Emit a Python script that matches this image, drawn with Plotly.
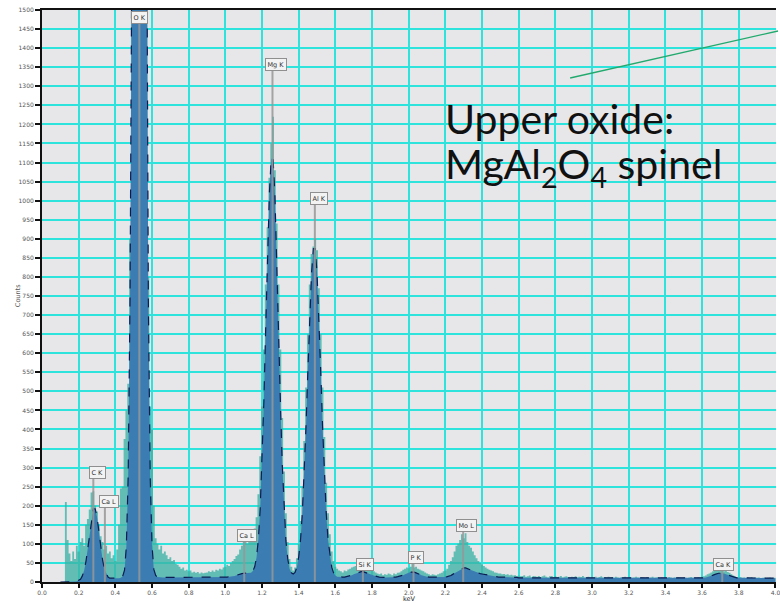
import numpy as np
import plotly.graph_objects as go

# ---------------------------------------------------------------------------
# EDS spectrum of the upper oxide layer (10 eV channels, 0.10 - 4.00 keV)
# ---------------------------------------------------------------------------
energy_start_kev = 0.10
channel_width_kev = 0.01

# Measured counts per channel
measured_counts = [
    0, 0, 0, 210, 110, 75, 55, 80, 60, 95,                      # 0.10
    80, 105, 115, 95, 150, 165, 190, 235, 238, 200,             # 0.20
    185, 150, 120, 105, 85, 95, 75, 80, 62, 70,                 # 0.30
    55, 85, 150, 245, 250, 375, 450, 520, 900, 1900,            # 0.40
    3200, 4800, 6300, 6900, 6300, 4900, 3200, 1700, 800, 460,   # 0.50
    400, 200, 115, 100, 85, 95, 75, 80, 70, 60,                 # 0.60
    65, 55, 58, 48, 45, 40, 35, 38, 30, 32,                     # 0.70
    28, 30, 25, 27, 24, 26, 22, 25, 23, 24,                     # 0.80
    25, 28, 26, 30, 27, 32, 30, 35, 33, 38,                     # 0.90
    40, 45, 42, 50, 55, 60, 68, 72, 85, 95,                     # 1.00
    125, 110, 100, 105, 110, 120, 140, 170, 230, 330,           # 1.10
    460, 610, 780, 930, 1060, 1150, 1220, 1080, 940, 780,       # 1.20
    610, 430, 290, 180, 105, 60, 40, 30, 38, 62,                # 1.30
    100, 160, 250, 370, 510, 650, 780, 860, 880, 900,           # 1.40
    870, 770, 650, 510, 380, 260, 180, 125, 80, 55,             # 1.50
    40, 35, 30, 28, 25, 30, 28, 33, 35, 38,                     # 1.60
    40, 42, 38, 45, 48, 42, 45, 40, 38, 35,                     # 1.70
    30, 28, 25, 22, 20, 22, 18, 20, 19, 22,                     # 1.80
    20, 18, 22, 20, 24, 25, 28, 32, 35, 38,                     # 1.90
    36, 40, 48, 38, 40, 35, 33, 30, 28, 25,                     # 2.00
    22, 20, 18, 20, 19, 18, 20, 22, 24, 28,                     # 2.10
    30, 35, 45, 55, 65, 80, 95, 100, 110, 125,                  # 2.20
    115, 128, 105, 95, 90, 80, 70, 62, 55, 50,                  # 2.30
    45, 42, 38, 35, 32, 30, 28, 25, 24, 22,                     # 2.40
    22, 20, 21, 19, 20, 18, 19, 17, 18, 16,                     # 2.50
    17, 15, 16, 18, 14, 15, 17, 13, 16, 15,                     # 2.60
    14, 16, 13, 15, 17, 14, 12, 15, 16, 13,                     # 2.70
    15, 13, 14, 16, 12, 14, 15, 13, 12, 14,                     # 2.80
    13, 15, 12, 14, 13, 16, 12, 13, 14, 12,                     # 2.90
    13, 12, 14, 11, 13, 15, 12, 13, 11, 14,                     # 3.00
    12, 13, 11, 14, 12, 10, 13, 12, 14, 11,                     # 3.10
    12, 13, 11, 12, 14, 12, 11, 13, 12, 10,                     # 3.20
    13, 11, 12, 14, 11, 12, 13, 10, 12, 11,                     # 3.30
    12, 11, 13, 12, 10, 12, 11, 13, 12, 11,                     # 3.40
    12, 11, 10, 12, 13, 11, 12, 11, 13, 12,                     # 3.50
    14, 15, 17, 20, 22, 25, 28, 30, 32, 30,                     # 3.60
    33, 30, 28, 30, 26, 24, 20, 17, 15, 13,                     # 3.70
    12, 13, 11, 12, 10, 12, 11, 13, 10, 12,                     # 3.80
    11, 12, 10, 11, 12, 10, 11, 12, 10, 11,                     # 3.90
    11,                                                         # 4.00
]

# Fitted peak envelope (peaks + background) per channel
fitted_counts = [
    0, 0, 0, 0, 0, 0, 1, 1, 1, 2,                               # 0.10
    4, 7, 16, 31, 55, 91, 132, 169, 192, 192,                   # 0.20
    171, 134, 93, 59, 35, 21, 13, 10, 10, 9,                    # 0.30
    9, 9, 10, 11, 15, 31, 93, 279, 738, 1654,                   # 0.40
    3110, 4884, 6405, 7011, 6405, 4884, 3110, 1655, 739, 280,   # 0.50
    95, 33, 17, 13, 12, 12, 12, 12, 12, 12,                     # 0.60
    13, 13, 13, 13, 13, 13, 13, 13, 13, 13,                     # 0.70
    13, 13, 13, 13, 13, 13, 13, 13, 13, 13,                     # 0.80
    13, 13, 13, 13, 13, 13, 13, 13, 13, 13,                     # 0.90
    13, 13, 14, 14, 15, 16, 18, 19, 21, 22,                     # 1.00
    23, 23, 23, 23, 24, 29, 40, 65, 112, 192,                   # 1.10
    313, 474, 665, 859, 1019, 1110, 1110, 1019, 859, 665,       # 1.20
    474, 312, 191, 109, 61, 35, 24, 21, 25, 39,                 # 1.30
    66, 111, 182, 283, 410, 554, 696, 810, 874, 874,            # 1.40
    810, 696, 554, 410, 283, 182, 111, 66, 39, 24,              # 1.50
    17, 14, 13, 13, 13, 13, 14, 15, 16, 18,                     # 1.60
    20, 22, 24, 26, 27, 27, 26, 24, 22, 20,                     # 1.70
    18, 16, 15, 14, 13, 12, 12, 12, 12, 12,                     # 1.80
    12, 12, 13, 13, 14, 15, 16, 18, 20, 23,                     # 1.90
    24, 26, 26, 26, 24, 23, 20, 18, 16, 15,                     # 2.00
    14, 13, 13, 12, 12, 12, 12, 12, 12, 13,                     # 2.10
    13, 14, 15, 17, 20, 23, 26, 30, 33, 35,                     # 2.20
    37, 37, 35, 33, 31, 28, 26, 24, 23, 22,                     # 2.30
    21, 20, 19, 18, 17, 16, 15, 14, 14, 13,                     # 2.40
    13, 13, 12, 12, 12, 12, 12, 12, 12, 12,                     # 2.50
    11, 11, 11, 11, 11, 11, 11, 11, 11, 11,                     # 2.60
    11, 11, 11, 11, 11, 11, 11, 11, 11, 11,                     # 2.70
    11, 11, 11, 11, 11, 11, 11, 11, 11, 11,                     # 2.80
    11, 11, 11, 11, 11, 11, 11, 11, 11, 11,                     # 2.90
    10, 10, 10, 10, 10, 10, 10, 10, 10, 10,                     # 3.00
    10, 10, 10, 10, 10, 10, 10, 10, 10, 10,                     # 3.10
    10, 10, 10, 10, 10, 10, 10, 10, 10, 10,                     # 3.20
    10, 10, 10, 10, 10, 10, 10, 10, 10, 10,                     # 3.30
    10, 10, 10, 10, 10, 10, 10, 10, 10, 10,                     # 3.40
    10, 10, 10, 10, 10, 10, 10, 10, 10, 10,                     # 3.50
    11, 11, 12, 13, 14, 16, 18, 20, 22, 23,                     # 3.60
    23, 23, 22, 20, 18, 16, 14, 13, 12, 11,                     # 3.70
    11, 10, 10, 10, 10, 10, 10, 10, 10, 10,                     # 3.80
    10, 10, 10, 10, 10, 10, 10, 10, 10, 10,                     # 3.90
    10,                                                         # 4.00
]

assert len(measured_counts) == len(fitted_counts)
energy_kev = np.round(energy_start_kev + channel_width_kev * np.arange(len(measured_counts)), 2)

# Identified lines
peak_labels = ["C K", "Ca L", "O K", "Ca L", "Mg K", "Al K", "Si K", "P K", "Mo L", "Ca K"]
peak_energies_kev = [0.280, 0.343, 0.531, 1.103, 1.257, 1.488, 1.750, 2.026, 2.297, 3.710]

# Where each label box sits (keV, counts)
label_box_x = [0.304, 0.366, 0.531, 1.117, 1.278, 1.508, 1.762, 2.038, 2.317, 3.717]
label_box_y = [287, 211, 1481, 122, 1358, 1005, 46, 63, 148, 47]

x_ticks = [round(0.2 * i, 1) for i in range(21)]
y_ticks = list(range(0, 1501, 50))

# ---------------------------------------------------------------------------
W, H = 780, 603
M_L, M_R, M_T, M_B = 42, 0, 10, 21


def px_x(px):
    return (px - M_L) / (W - M_L - M_R)


def px_y(py):
    return (H - M_B - py) / (H - M_T - M_B)


fig = go.Figure()

fig.add_trace(go.Scatter(
    x=energy_kev, y=measured_counts,
    mode="lines", line=dict(width=0, shape="hvh", color="rgba(60,178,164,0.78)"),
    fill="tozeroy", fillcolor="rgba(60,178,164,0.78)",
    hoverinfo="skip", showlegend=False,
))

fig.add_trace(go.Scatter(
    x=energy_kev, y=fitted_counts,
    mode="lines", line=dict(width=1.2, color="#0c1c52", dash="dash"),
    fill="tozeroy", fillcolor="#3b7db3",
    hoverinfo="skip", showlegend=False,
))

shapes = []
for e, ly in zip(peak_energies_kev, label_box_y):
    shapes.append(dict(type="line", xref="x", yref="y", x0=e, x1=e, y0=0, y1=ly,
                       line=dict(color="rgba(150,150,150,0.85)", width=2), layer="above"))

# leader line towards the layer annotation
shapes.append(dict(type="line", xref="paper", yref="paper",
                   x0=px_x(573), y0=px_y(78), x1=px_x(782), y1=px_y(31),
                   line=dict(color="#22aa6e", width=1.3)))

annotations = []
for text, bx, by in zip(peak_labels, label_box_x, label_box_y):
    annotations.append(dict(x=bx, y=by, xref="x", yref="y", text=text, showarrow=False,
                            font=dict(family="DejaVu Sans", size=6.5, color="#333333"),
                            bgcolor="#f3f3f3", bordercolor="#8f8f8f", borderwidth=1,
                            borderpad=1.5))

annotations += [
    dict(x=px_x(445), y=px_y(118), xref="paper", yref="paper", xanchor="left", yanchor="middle",
         text="Upper oxide:", showarrow=False,
         font=dict(family="Lato", size=41, color="#111111")),
    dict(x=px_x(445), y=px_y(166), xref="paper", yref="paper", xanchor="left", yanchor="middle",
         text="MgAl<sub>2</sub>O<sub>4</sub> spinel", showarrow=False,
         font=dict(family="Lato", size=41, color="#111111")),
    dict(x=px_x(12), y=px_y(296), xref="paper", yref="paper", text="Counts", textangle=-90,
         showarrow=False, font=dict(family="DejaVu Sans", size=6.5, color="#555555")),
    dict(x=px_x(412), y=px_y(599), xref="paper", yref="paper", yanchor="middle", text="keV",
         showarrow=False, font=dict(family="DejaVu Sans", size=6.5, color="#222222")),
]

fig.update_layout(
    width=W, height=H,
    margin=dict(l=M_L, r=M_R, t=M_T, b=M_B),
    paper_bgcolor="white",
    plot_bgcolor="#e7e7ea",
    shapes=shapes,
    annotations=annotations,
)

fig.update_xaxes(
    range=[0, 4.003], tickvals=x_ticks, ticktext=[f"{v:.1f}" for v in x_ticks],
    ticklabeloverflow="allow",
    showgrid=True, gridcolor="#2fe3dd", gridwidth=1.6,
    showline=True, linecolor="#111111", linewidth=2, mirror=True,
    ticks="outside", ticklen=4, tickwidth=1.5, tickcolor="#111111",
    tickfont=dict(family="DejaVu Sans", size=6, color="#555555"),
    zeroline=False,
)
fig.update_yaxes(
    range=[0, 1500], tickvals=y_ticks,
    showgrid=True, gridcolor="#2fe3dd", gridwidth=1.6,
    showline=True, linecolor="#111111", linewidth=2,
    ticks="outside", ticklen=5, tickwidth=1.5, tickcolor="#111111",
    tickfont=dict(family="DejaVu Sans", size=6, color="#555555"),
    zeroline=False,
)

fig.write_html("out.html")
